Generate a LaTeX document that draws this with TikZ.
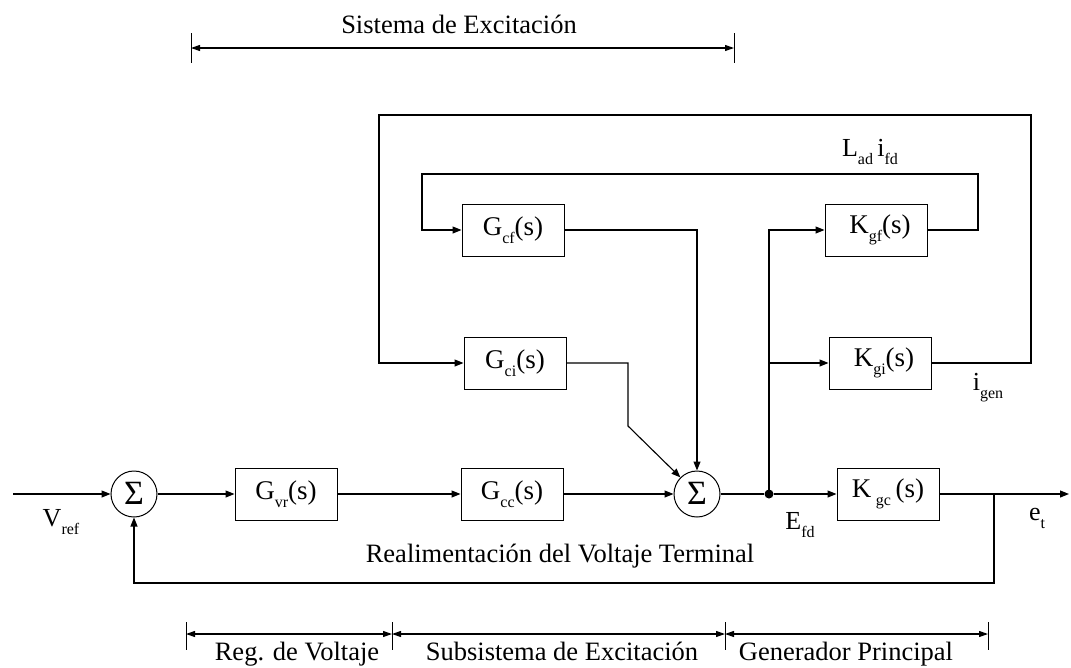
\documentclass[tikz,border=0pt]{standalone}
\usepackage{fontspec}
\setmainfont{Liberation Serif}
\usetikzlibrary{arrows.meta,calc}
\newcommand{\sbs}[1]{\raisebox{-8pt}{\fontsize{16}{16}\selectfont #1}}
\begin{document}
\begin{tikzpicture}[x=1pt,y=-1pt,
  blk/.style={draw,line width=1pt,minimum width=102pt,minimum height=52pt,inner sep=0pt,font=\fontsize{27}{28}\selectfont},
  sumn/.style={draw,circle,line width=1pt,minimum size=46pt,inner sep=0pt,font=\fontsize{34}{34}\selectfont},
  wire/.style={line width=1.1pt},
  arr/.style={wire,-{Triangle[length=9pt,width=7pt]}},
  dimln/.style={line width=1.1pt,{Triangle[length=9pt,width=6pt]}-{Triangle[length=9pt,width=6pt]}},
  tickln/.style={line width=1pt},
  lbl/.style={font=\fontsize{26}{28}\selectfont,inner sep=0pt},
  captxt/.style={font=\fontsize{26.5}{28}\selectfont,inner sep=0pt,anchor=base},
  dotn/.style={circle,fill,inner sep=0pt,minimum size=9pt},
]
\useasboundingbox (0,0) rectangle (1071,667);
% blocks
\node[sumn] (s1) at (134,494) {\raisebox{1pt}{Σ}};
\node[blk] (gvr) at (286,494) {G\sbs{vr}(s)};
\node[blk] (gcc) at (512,494) {G\sbs{cc}(s)};
\node[sumn] (s2) at (697,494) {\raisebox{1pt}{Σ}};
\node[dotn] (jn) at (769,494) {};
\node[blk] (kgc) at (888,494) {K\,\sbs{gc}\,(s)};
\node[blk] (gcf) at (513,230) {G\sbs{cf}(s)};
\node[blk] (gci) at (515,363) {G\sbs{ci}(s)};
\node[blk] (kgf) at (876,230) {\hspace{8pt}K\sbs{gf}(s)};
\node[blk] (kgi) at (880,363) {\hspace{8pt}K\sbs{gi}(s)};
% coordinates
\coordinate (in) at (13,494);
\coordinate (tap) at (994,494);
\coordinate (out) at (1069,494);
\coordinate (fb) at (994,583);
\coordinate (ilr) at (978,174);
\coordinate (ill) at (422,174);
\coordinate (olr) at (1031,115);
\coordinate (oll) at (379,115);
\coordinate (gc1) at (628,363);
\coordinate (gc2) at (628,426);
% main path
\draw[arr] (in) -- (s1);
\draw[arr] (s1) -- (gvr);
\draw[arr] (gvr) -- (gcc);
\draw[arr] (gcc) -- (s2);
\draw[wire] (s2) -- (jn);
\draw[arr] (jn) -- (kgc);
\draw[arr] (kgc) -- (out);
\draw[arr] (tap) -- (fb) -| (s1.south);
% branches
\draw[arr] (jn.center) |- (kgf.west);
\draw[arr] (jn.center) |- (kgi.west);
\draw[arr] (kgf.east) -| (ilr) -- (ill) |- (gcf.west);
\draw[arr] (kgi.east) -| (olr) -- (oll) |- (gci.west);
\draw[arr] (gcf.east) -| (s2.north);
\draw[arr] (gci.east) -- (gc1) -- (gc2) -- (s2.135);
% labels
\node[lbl] (vref) at (61,522) {V\sbs{ref}};
\node[lbl] (efd) at (800,525) {E\sbs{fd}};
\node[lbl] (et) at (1037,518) {e\sbs{t}};
\node[lbl] (lad) at (870,152) {L\sbs{ad}\,i\sbs{fd}};
\node[lbl] (igen) at (988,388) {i\sbs{gen}};
\node[captxt] (real) at (560,562) {Realimentación del Voltaje Terminal};
\node[captxt] (sist) at (459,33) {Sistema de Excitación};
% top dimension
\coordinate (ta) at (191,48);
\coordinate (tb) at (734,48);
\draw[tickln] (191,33) -- (191,63);
\draw[tickln] (734,33) -- (734,63);
\draw[dimln] (ta) -- (tb);
% bottom dimension
\coordinate (b1) at (186,634);
\coordinate (b2) at (392,634);
\coordinate (b3) at (725,634);
\coordinate (b4) at (988,634);
\foreach \x in {186,392,725,988} \draw[tickln] (\x,622) -- (\x,650);
\draw[dimln] (b1) -- (b2);
\draw[dimln] (b2) -- (b3);
\draw[dimln] (b3) -- (b4);
\node[captxt] (reg) at (297,660) {Reg. de Voltaje};
\node[captxt] (sub) at (562,660) {Subsistema de Excitación};
\node[captxt] (gen) at (846,660) {Generador Principal};
\end{tikzpicture}
\end{document}
